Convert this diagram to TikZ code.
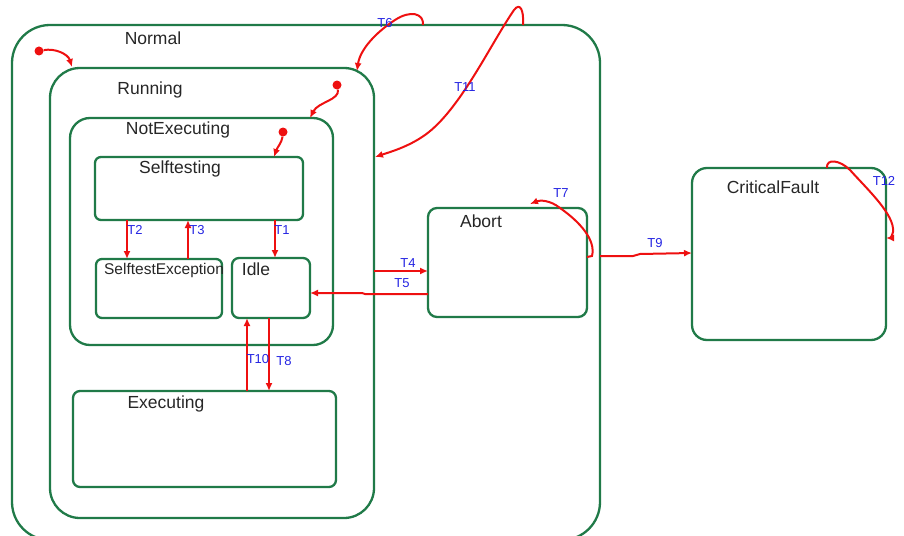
\documentclass[tikz,border=0pt]{standalone}
\usepackage{fontspec}
\setmainfont{Liberation Sans}
\usetikzlibrary{arrows.meta}
\definecolor{sgreen}{RGB}{32,122,72}
\definecolor{tred}{RGB}{238,16,16}
\definecolor{tblue}{RGB}{36,36,226}
\begin{document}
\begin{tikzpicture}[x=1pt,y=-1pt,
  st/.style={draw=sgreen,line width=2.3pt,inner sep=0pt,outer sep=0pt,rectangle},
  sname/.style={font=\fontsize{17.5}{20}\selectfont,text=black!85,inner sep=0pt},
  tr/.style={draw=tred,line width=2pt,-{Latex[length=8pt,width=7pt]}},
  tl/.style={font=\fontsize{13}{15}\selectfont,text=tblue,inner sep=0pt},
  idot/.style={circle,fill=tred,inner sep=0pt,minimum size=9pt}]
\useasboundingbox (0,0) rectangle (904,535);
\begin{scope}
\clip (0,0) rectangle (904,535);
% states
\node[st,rounded corners=38pt,minimum width=588pt,minimum height=515pt] (normal) at (306,282.5) {};
\node[st,rounded corners=30pt,minimum width=324pt,minimum height=450pt] (running) at (212,293) {};
\node[st,rounded corners=20pt,minimum width=263pt,minimum height=227pt] (notexec) at (201.5,231.5) {};
\node[st,rounded corners=6pt,minimum width=208pt,minimum height=63pt] (selftest) at (199,188.5) {};
\node[st,rounded corners=6pt,minimum width=126pt,minimum height=59pt] (stexc) at (159,288.5) {};
\node[st,rounded corners=7pt,minimum width=78pt,minimum height=60pt] (idle) at (271,288) {};
\node[st,rounded corners=7pt,minimum width=263pt,minimum height=96pt] (exec) at (204.5,439) {};
\node[st,rounded corners=9pt,minimum width=159pt,minimum height=109pt] (abort) at (507.5,262.5) {};
\node[st,rounded corners=15pt,minimum width=194pt,minimum height=172pt] (crit) at (789,254) {};
\end{scope}
% state names
\node[sname] (lnormal) at (153,38) {Normal};
\node[sname] (lrunning) at (150,90) {Running};
\node[sname] (lnotexec) at (178,130) {NotExecuting};
\node[sname] (lselftest) at (180,169) {Selftesting};
\node[sname,font=\fontsize{15.5}{17}\selectfont] (lstexc) at (164,270) {SelftestException};
\node[sname] (lidle) at (256,269) {Idle};
\node[sname] (lexec) at (166,404) {Executing};
\node[sname] (labort) at (481,221) {Abort};
\node[sname] (lcrit) at (773,187) {CriticalFault};
% initial pseudo states
\node[idot] (i1) at (39,51) {};
\node[idot] (i2) at (337,85) {};
\node[idot] (i3) at (283,132) {};
\coordinate (i1e) at (72,67);
\coordinate (i2e) at (310,118);
\coordinate (i3e) at (274,157);
\draw[tr] (i1) .. controls (55,48) and (68,54) .. (i1e);
\draw[tr] (i2) .. controls (340,100) and (318,102) .. (i2e);
\draw[tr] (i3) .. controls (282,142) and (277,148) .. (i3e);
% inner vertical transitions
\coordinate (x1) at (275,0);
\coordinate (x2) at (127,0);
\coordinate (x3) at (188,0);
\coordinate (x8) at (269,0);
\coordinate (x10) at (247,0);
\draw[tr] (selftest.south -| x1) -- (idle.north -| x1);
\draw[tr] (selftest.south -| x2) -- (stexc.north -| x2);
\draw[tr] (stexc.north -| x3) -- (selftest.south -| x3);
\draw[tr] (idle.south -| x8) -- (exec.north -| x8);
\draw[tr] (exec.north -| x10) -- (idle.south -| x10);
\node[tl] (t1) at (282,230) {T1};
\node[tl] (t2) at (135,230) {T2};
\node[tl] (t3) at (197,230) {T3};
\node[tl] (t8) at (284,361) {T8};
\node[tl] (t10) at (258,359) {T10};
% T4, T5
\coordinate (y4) at (0,271);
\coordinate (y5) at (0,294);
\draw[tr] (running.east |- y4) -- (abort.west |- y4);
\draw[tr] (abort.west |- y5) -- (365,294) -- (362,293) -- (idle.east |- 0,293);
\node[tl] (t4) at (408,263) {T4};
\node[tl] (t5) at (402,283) {T5};
% T6
\coordinate (t6s) at (423,25);
\coordinate (t6e) at (357,71);
\draw[tr] (t6s) .. controls (424,13) and (410,10) .. (395,20)
  .. controls (375,33) and (360,50) .. (t6e);
\node[tl] (t6) at (385,23) {T6};
% T11
\coordinate (t11s) at (523,25);
\coordinate (t11e) at (375,157);
\draw[tr] (t11s) .. controls (524,10) and (520,2) .. (514,10)
  .. controls (490,45) and (460,110) .. (425,135)
  .. controls (408,147) and (390,152) .. (t11e);
\node[tl] (t11) at (465,87) {T11};
% T7
\coordinate (t7s) at (587,257);
\coordinate (t7e) at (530,204);
\draw[tr] (t7s) -- (592,256) .. controls (596,240) and (580,222) .. (560,208)
  .. controls (550,200) and (540,200) .. (t7e);
\node[tl] (t7) at (561,193) {T7};
% T9
\coordinate (y9) at (0,256);
\draw[tr] (normal.east |- y9) -- (633,256) -- (640,254) -- (crit.west |- 0,253);
\node[tl] (t9) at (655,243) {T9};
% T12
\coordinate (t12s) at (827,168);
\coordinate (t12e) at (886,238);
\draw[tr] (t12s) .. controls (826,158) and (840,160) .. (850,170)
  .. controls (868,190) and (895,215) .. (893,232) .. controls (892,237) and (889,238) .. (t12e);
\node[tl] (t12) at (884,181) {T12};
\end{tikzpicture}
\end{document}
